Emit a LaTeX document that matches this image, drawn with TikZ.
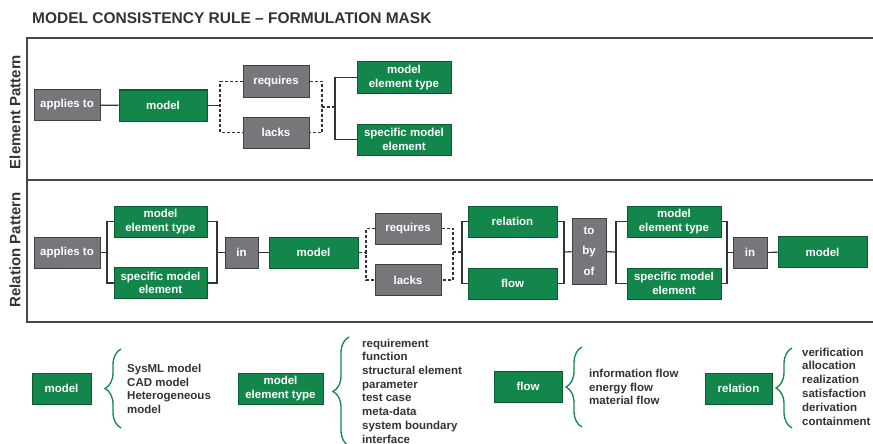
\documentclass[tikz,border=0pt]{standalone}
\usepackage{fontspec}
\setmainfont{Liberation Sans}
\usepackage{xcolor}
\usepackage{tikz}
\usetikzlibrary{decorations.pathreplacing}

\definecolor{grn}{HTML}{13874B}
\definecolor{grnD}{HTML}{0B5A31}
\definecolor{gry}{HTML}{77777B}
\definecolor{gryD}{HTML}{404043}
\definecolor{ink}{HTML}{333333}

\begin{document}
\begin{tikzpicture}[
      x=1pt, y=-1pt,
      font=\bfseries\fontsize{11.5}{13.5}\selectfont,
      box/.style={draw, line width=1pt, align=center, inner sep=0pt,
                  minimum height=31pt, text=white},
      gbox/.style={box, fill=grn, draw=grnD},
      gybox/.style={box, fill=gry, draw=gryD},
      lnk/.style={draw=ink, line width=1.2pt},
      dlnk/.style={lnk, dash pattern=on 3pt off 2pt},
      frm/.style={draw=ink!90, line width=1.3pt},
      side/.style={rotate=90, font=\bfseries\fontsize{15}{18}\selectfont, text=ink},
      brc/.style={draw=grn, line width=1.3pt, decorate,
                  decoration={brace, amplitude=16pt}},
      lst/.style={anchor=west, align=left, inner sep=0pt, text=ink}]

    \useasboundingbox (0,0) rectangle (873,444);

    \node[anchor=west, inner sep=0pt, text=ink,
          font=\bfseries\fontsize{15.5}{18}\selectfont] (title) at (32,18)
      {MODEL CONSISTENCY RULE -- FORMULATION MASK};

    % frame, open to the right
    \draw[frm, line width=2.4pt] (873,38) -- (27,38);
    \draw[frm] (27,37) -- (27,322) -- (873,322);
    \draw[frm, line width=1.1pt] (27,180) -- (873,180);
    \node[side] (sideE) at (15,112) {Element Pattern};
    \node[side] (sideR) at (15,250) {Relation Pattern};

    % element pattern
    \node[gybox, minimum width=66pt] (eApp) at (67,105) {applies to};
    \node[gbox, minimum width=88pt] (eModel) at (163,105.5) {model};
    \node[gybox, minimum width=66pt] (eReq) at (276,81.5) {requires};
    \node[gybox, minimum width=66pt] (eLacks) at (276,132.5) {lacks};
    \node[gbox, minimum width=94pt] (eMET) at (404,77.5) {model\\element type};
    \node[gbox, minimum width=94pt] (eSME) at (404,139.5) {specific model\\element};

    \coordinate (eJ1) at (220,105.5);
    \coordinate (eJ2) at (322,107);
    \coordinate (eJ3) at (335,107);
    \draw[lnk] (eApp) -- (eModel);
    \draw[lnk] (eModel) -- (eJ1);
    \draw[dlnk] (eReq.west) -| (eJ1) |- (eLacks.west);
    \draw[dlnk] (eReq.east) -| (eJ2) |- (eLacks.east);
    \draw[dlnk] (eJ2) -- (eJ3);
    \draw[lnk] (eMET.west) -| (eJ3) |- (eSME.west);

    % relation pattern
    \node[gybox, minimum width=66pt] (rApp) at (67,252.5) {applies to};
    \node[gbox, minimum width=93pt] (rMET) at (160.5,221.5) {model\\element type};
    \node[gbox, minimum width=93pt] (rSME) at (160.5,283) {specific model\\element};
    \node[gybox, minimum width=33pt] (rIn) at (241.5,252.5) {in};
    \node[gbox, minimum width=89pt] (rModel) at (313.5,252.5) {model};
    \node[gybox, minimum width=66pt] (rReq) at (408,228.5) {requires};
    \node[gybox, minimum width=66pt] (rLacks) at (408,280) {lacks};
    \node[gbox, minimum width=89pt] (rRel) at (512.5,221.5) {relation};
    \node[gbox, minimum width=89pt] (rFlow) at (512.5,283.5) {flow};
    \node[gybox, minimum width=34pt, minimum height=66pt] (rTBO) at (589,251)
      {to\\[7pt]by\\[7pt]of};
    \node[gbox, minimum width=94pt] (rMET2) at (674,221.5) {model\\element type};
    \node[gbox, minimum width=94pt] (rSME2) at (674,283.5) {specific model\\element};
    \node[gybox, minimum width=34pt] (rIn2) at (750,252.5) {in};
    \node[gbox, minimum width=89pt] (rModel2) at (822.5,252) {model};

    \coordinate (rJ1) at (107,252.5);
    \coordinate (rJ2) at (217,252.5);
    \coordinate (rJ3) at (366,252.5);
    \coordinate (rJ4) at (453,252);
    \coordinate (rJ5) at (462,252);
    \coordinate (rJ6) at (564,252);
    \coordinate (rJ7) at (616,252);
    \coordinate (rJ8) at (727,252.5);
    \draw[lnk] (rApp) -- (rJ1);
    \draw[lnk] (rMET.west) -| (rJ1) |- (rSME.west);
    \draw[lnk] (rMET.east) -| (rJ2) |- (rSME.east);
    \draw[lnk] (rJ2) -- (rIn);
    \draw[lnk] (rIn) -- (rModel);
    \draw[dlnk] (rModel) -- (rJ3);
    \draw[dlnk] (rReq.west) -| (rJ3) |- (rLacks.west);
    \draw[dlnk] (rReq.east) -| (rJ4) |- (rLacks.east);
    \draw[dlnk] (rJ4) -- (rJ5);
    \draw[lnk] (rRel.west) -| (rJ5) |- (rFlow.west);
    \draw[lnk] (rRel.east) -| (rJ6) |- (rFlow.east);
    \draw[lnk] (rJ6) -- (rTBO);
    \draw[lnk] (rTBO) -- (rJ7);
    \draw[lnk] (rMET2.west) -| (rJ7) |- (rSME2.west);
    \draw[lnk] (rMET2.east) -| (rJ8) |- (rSME2.east);
    \draw[lnk] (rJ8) -- (rIn2);
    \draw[lnk] (rIn2) -- (rModel2);

    % legend
    \node[gbox, minimum width=59pt] (lModel) at (61.5,388.5) {model};
    \draw[brc] (121,428) -- (121,349);
    \node[lst] (lModelList) at (127,389)
      {SysML model\\CAD model\\Heterogeneous\\model};

    \node[gbox, minimum width=85pt] (lMET) at (280.5,388.5) {model\\element type};
    \draw[brc] (349,446) -- (349,337);
    \node[lst, font=\bfseries\fontsize{11.5}{13.7}\selectfont] (lMETList) at (362,391)
      {requirement\\function\\structural element\\parameter\\test case\\meta-data\\system boundary\\interface};

    \node[gbox, minimum width=68pt] (lFlow) at (528,386.5) {flow};
    \draw[brc] (582,427) -- (582,347);
    \node[lst] (lFlowList) at (589,387)
      {information flow\\energy flow\\material flow};

    \node[gbox, minimum width=67pt] (lRel) at (738.5,388.5) {relation};
    \draw[brc] (792,428) -- (792,348);
    \node[lst, font=\bfseries\fontsize{11.5}{13.8}\selectfont] (lRelList) at (802,386.5)
      {verification\\allocation\\realization\\satisfaction\\derivation\\containment};
  \end{tikzpicture}
\end{document}
